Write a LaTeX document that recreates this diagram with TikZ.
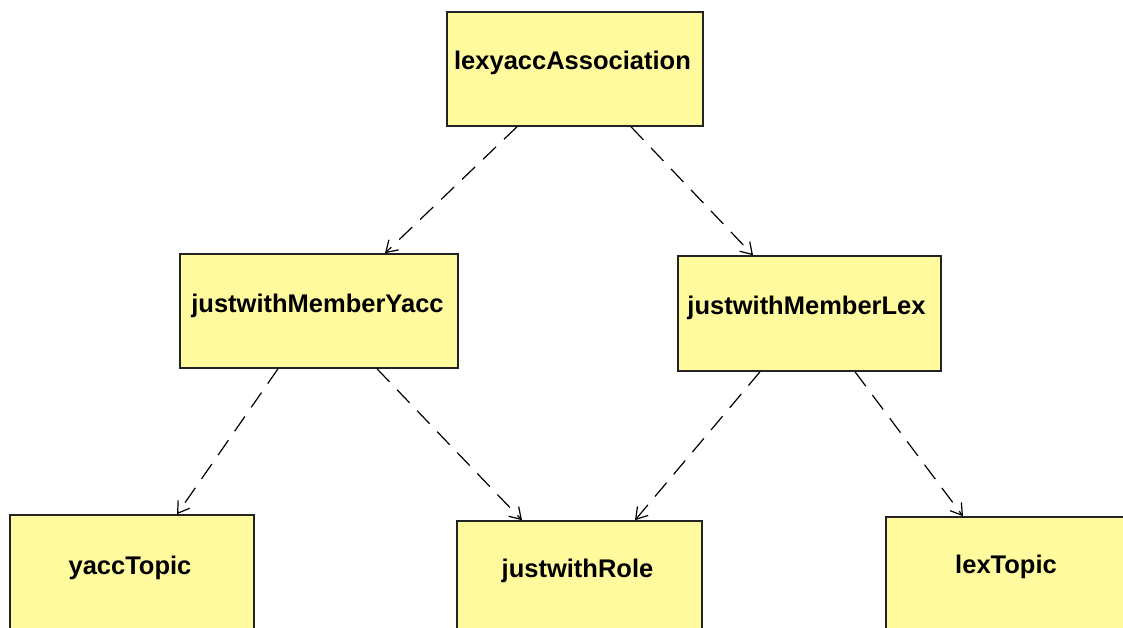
\documentclass[tikz,border=0pt]{standalone}
\usepackage{fontspec}
\setmainfont{Liberation Sans}
\usetikzlibrary{arrows.meta}
\definecolor{boxfill}{RGB}{255,250,158}
\definecolor{boxline}{RGB}{35,35,35}
\tikzset{
  cls/.style={draw=boxline, fill=boxfill, line width=1.6pt, rectangle,
              inner sep=0pt, minimum height=114pt},
  clsname/.style={font=\fontsize{25.5pt}{28pt}\selectfont\bfseries, inner sep=0pt},
  dep/.style={draw=black, line width=1.2pt, dash pattern=on 18pt off 11pt,
              -{Straight Barb[length=11pt,width=14pt,line width=1.2pt]}}
}
\begin{document}
\begin{tikzpicture}[x=1pt,y=-1pt]
  \useasboundingbox (0,0) rectangle (1123,628);
  \begin{scope}
  \clip (0,0) rectangle (1123,628);
  \fill[white] (0,0) rectangle (1123,628);

  % class boxes
  \node[cls, minimum width=256pt] (assoc) at (575,69) {};
  \node[cls, minimum width=278pt] (myacc) at (319,311) {};
  \node[cls, minimum width=263pt, minimum height=115pt] (mlex) at (809.5,313.5) {};
  \node[cls, minimum width=244pt, minimum height=120pt] (ytopic) at (132,575) {};
  \node[cls, minimum width=245pt, minimum height=120pt] (role) at (579.5,581) {};
  \node[cls, minimum width=300pt, minimum height=120pt] (ltopic) at (1036,577) {};

  % class names
  \node[clsname] (assocname) at (572.5,62.5) {lexyaccAssociation};
  \node[clsname] (myaccname) at (317.5,306) {justwithMemberYacc};
  \node[clsname] (mlexname) at (806.5,308) {justwithMemberLex};
  \node[clsname] (ytopicname) at (130,568) {yaccTopic};
  \node[clsname] (rolename) at (577.5,571) {justwithRole};
  \node[clsname] (ltopicname) at (1006,567) {lexTopic};

  % dependencies
  \draw[dep] ([xshift=-58pt]assoc.south) -- ([xshift=66pt]myacc.north);
  \draw[dep] ([xshift=56pt]assoc.south) -- ([xshift=-56.5pt]mlex.north);
  \draw[dep] ([xshift=-41pt]myacc.south) -- ([xshift=45pt]ytopic.north);
  \draw[dep] ([xshift=58pt]myacc.south) -- ([xshift=-57.5pt]role.north);
  \draw[dep] ([xshift=-49.5pt]mlex.south) -- ([xshift=55.5pt]role.north);
  \draw[dep] ([xshift=45.5pt]mlex.south) -- ([xshift=-73pt]ltopic.north);
  \end{scope}
\end{tikzpicture}
\end{document}
